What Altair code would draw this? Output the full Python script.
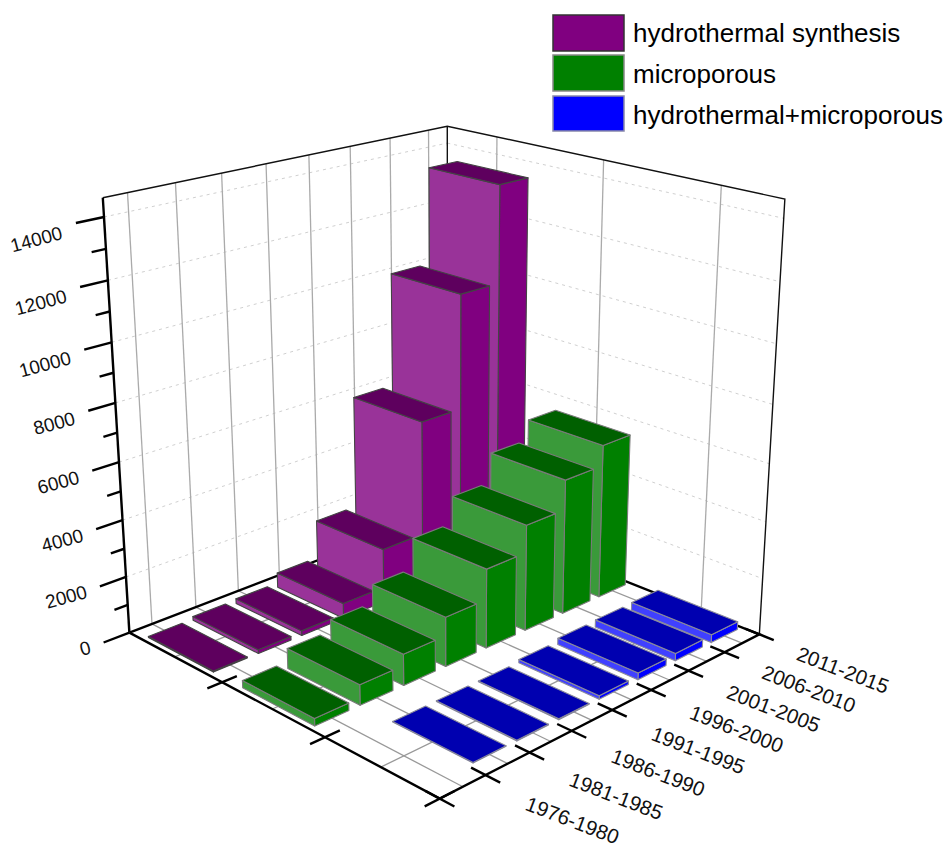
import numpy as np
import pandas as pd
import altair as alt

categories = ["1976-1980", "1981-1985", "1986-1990", "1991-1995",
              "1996-2000", "2001-2005", "2006-2010", "2011-2015"]
series_names = ["hydrothermal synthesis", "microporous", "hydrothermal+microporous"]
hydrothermal = [40, 130, 170, 540, 1930, 6010, 10080, 13500]
microporous = [250, 700, 1080, 1720, 2790, 3750, 4800, 5520]
both = [0, 20, 25, 30, 120, 230, 260, 280]
z_ticks = [0, 2000, 4000, 6000, 8000, 10000, 12000, 14000]
Z_MAX = 14600
BAR_U = 0.75
BAR_V = 0.70

# Camera calibration: box corners (u, v, z in 0..1) and where they land on the page
world = [(0, 0, 0), (1, 0, 0), (0, 1, 0), (1, 1, 0), (1, 0, 1), (0, 1, 1), (1, 1, 1)]
page = [(440, 799), (759, 634), (129, 632), (448, 511), (785, 199), (103, 198), (447, 126)]
rows = []
for (a, b, c), (px, py) in zip(world, page):
    rows.append([a, b, c, 1, 0, 0, 0, 0, -px * a, -px * b, -px * c, -px])
    rows.append([0, 0, 0, 0, a, b, c, 1, -py * a, -py * b, -py * c, -py])
CAM = np.linalg.svd(np.array(rows, dtype=float))[2][-1].reshape(3, 4)


def P(u, v, val):
    h = CAM @ np.array([u, v, val / Z_MAX, 1.0])
    return [float(h[0] / h[2]), float(h[1] / h[2])]


def line(*pts, **props):
    return {"type": "Feature", "properties": props,
            "geometry": {"type": "LineString", "coordinates": [P(*p) for p in pts]}}


def poly(pts, **props):
    c = [P(*p) for p in pts]
    return {"type": "Feature", "properties": props,
            "geometry": {"type": "Polygon", "coordinates": [c + [c[0]]]}}


PROJ = dict(type="identity", scale=1, translate=[-8, -8])


def lines(features, **style):
    return (alt.Chart(alt.Data(values=features))
            .mark_geoshape(filled=False, **style).project(**PROJ))


nu, nv = len(categories), 3
uc = [(i + 0.5) / nu for i in range(nu)]
vc = [(j + 0.5) / nv for j in range(nv)]

# walls and floor
dashed = []
for t in z_ticks[1:]:
    dashed.append(line((0, 1, t), (1, 1, t)))
    dashed.append(line((1, 1, t), (1, 0, t)))
grid = [line((u, 1, 0), (u, 1, Z_MAX)) for u in uc]
grid += [line((1, v, 0), (1, v, Z_MAX)) for v in vc]
floor = [line((u, 0, 0), (u, 1, 0)) for u in uc] + [line((0, v, 0), (1, v, 0)) for v in vc]
thin = [line((0, 1, Z_MAX), (1, 1, Z_MAX), (1, 0, Z_MAX), (1, 0, 0)),
        line((1, 1, 0), (1, 1, Z_MAX))]
thick = [line((0, 1, 0), (0, 1, Z_MAX)),
         line((0, 1, 0), (1, 1, 0), (1, 0, 0), (0, 0, 0), (0, 1, 0))]
# tick marks
for k in range(0, 15):
    val = k * 1000
    thick.append(line((0, 1, val), (-0.07 if k % 2 == 0 else -0.036, 1, val)))
for i in range(nu + 1):
    thick.append(line((i / nu, -0.04, 0), (i / nu, 0.04, 0)))
for j in range(nv):
    thick.append(line((-0.04, j / nv, 0), (0.04, j / nv, 0)))

# bars, painted from the far corner towards the viewer
palette = [
    ("#5e005e", "#993399", "#800080", "#444444", hydrothermal, 2),
    ("#006000", "#3a9a3a", "#008000", "#7a7a7a", microporous, 1),
    ("#0000b0", "#4040ff", "#0000ff", "#8a8a9a", both, 0),
]
faces = []
for i in reversed(range(nu)):
    for top, front, side, edge, vals, j in palette:
        val = vals[i]
        if val <= 0:
            continue
        u0, u1 = uc[i] - BAR_U / nu / 2, uc[i] + BAR_U / nu / 2
        v0, v1 = vc[j] - BAR_V / nv / 2, vc[j] + BAR_V / nv / 2
        faces.append(poly([(u0, v0, 0), (u1, v0, 0), (u1, v0, val), (u0, v0, val)], fill=side, edge=edge))
        faces.append(poly([(u0, v0, 0), (u0, v1, 0), (u0, v1, val), (u0, v0, val)], fill=front, edge=edge))
        faces.append(poly([(u0, v0, val), (u1, v0, val), (u1, v1, val), (u0, v1, val)], fill=top, edge=edge))

bars = (alt.Chart(alt.Data(values=faces))
        .mark_geoshape(strokeWidth=1.1, strokeJoin="round")
        .encode(fill=alt.Fill("properties.fill:N", scale=None),
                stroke=alt.Stroke("properties.edge:N", scale=None))
        .project(**PROJ))

# legend
legend_boxes = [(553, 15, 71, 36), (553, 55, 71, 36), (553, 96, 71, 35)]
legend_fill = ["#800080", "#008000", "#0000ff"]
legend_edge = ["#333333", "#888888", "#8888aa"]
legend_feats = []
for (x, y, w, h), f, e in zip(legend_boxes, legend_fill, legend_edge):
    c = [[x, y], [x + w, y], [x + w, y + h], [x, y + h], [x, y]]
    legend_feats.append({"type": "Feature", "properties": {"fill": f, "edge": e},
                         "geometry": {"type": "Polygon", "coordinates": [c]}})
legend = (alt.Chart(alt.Data(values=legend_feats))
          .mark_geoshape(strokeWidth=1.5)
          .encode(fill=alt.Fill("properties.fill:N", scale=None),
                  stroke=alt.Stroke("properties.edge:N", scale=None))
          .project(**PROJ))
legend_df = pd.DataFrame({"lon": [633, 633, 633], "lat": [34, 75, 116], "t": series_names})
legend_text = (alt.Chart(legend_df)
               .mark_text(align="left", baseline="middle", font="Liberation Sans", fontSize=26, color="#000000")
               .encode(longitude="lon:Q", latitude="lat:Q", text="t:N").project(**PROJ))


def text_df(points, labels):
    return pd.DataFrame({"lon": [p[0] for p in points], "lat": [p[1] for p in points], "t": labels})


z_df = text_df([P(-0.105, 1, t * 0.985) for t in z_ticks], [str(t) for t in z_ticks])
z_text = (alt.Chart(z_df)
          .mark_text(align="right", baseline="middle", angle=345, font="Liberation Sans",
                     fontSize=19, color="#111111")
          .encode(longitude="lon:Q", latitude="lat:Q", text="t:N").project(**PROJ))
c_df = text_df([P(u, -0.265 - 0.02 * (1 - u), 400 + 300 * (1 - u)) for u in uc], categories)
c_text = (alt.Chart(c_df)
          .mark_text(align="center", baseline="middle", angle=21, font="Liberation Sans",
                     fontSize=20.5, color="#111111")
          .encode(longitude="lon:Q", latitude="lat:Q", text="t:N").project(**PROJ))

chart = alt.layer(
    lines(dashed, stroke="#d0d0d0", strokeWidth=1, strokeDash=[3, 4]),
    lines(grid, stroke="#aaaaaa", strokeWidth=1.3),
    lines(floor, stroke="#999999", strokeWidth=1.3),
    lines(thin, stroke="#111111", strokeWidth=1.4),
    lines(thick, stroke="#000000", strokeWidth=2.4),
    bars, legend, legend_text, z_text, c_text,
).properties(width=936, height=842, padding=0, autosize="none", background="white"
).configure_view(stroke=None)

chart.save("out.html", embed_options={"renderer": "svg", "actions": False})
